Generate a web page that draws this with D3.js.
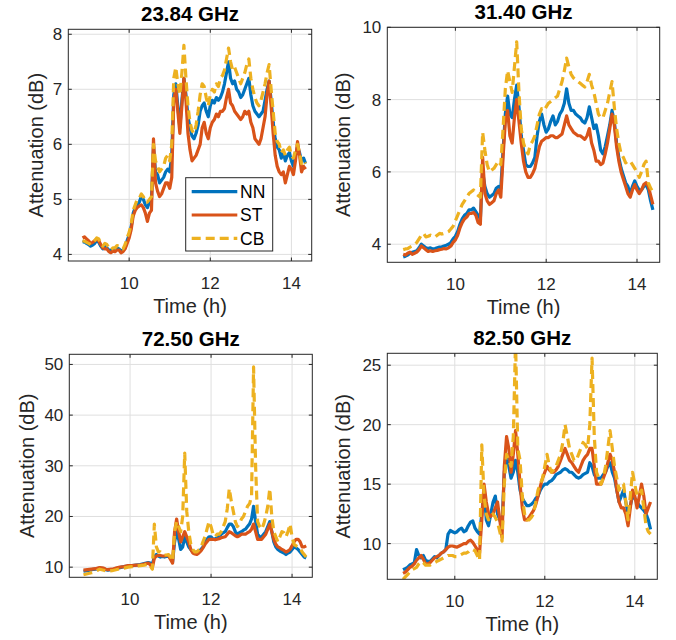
<!DOCTYPE html>
<html>
<head>
<meta charset="utf-8">
<script src="https://cdn.jsdelivr.net/npm/d3@7"></script>
<style>
  body { margin: 0; background: #fff; }
  svg { display: block; font-family: "Liberation Sans", Arial, sans-serif; }
</style>
</head>
<body>
<svg id="svg"></svg>
<script>
// time axis (hours), shared by all four panels
const time = [
  8.85, 8.9, 8.95, 9.0, 9.05, 9.1, 9.15, 9.2, 9.25, 9.3,
  9.35, 9.4, 9.45, 9.5, 9.55, 9.6, 9.65, 9.7, 9.75, 9.8,
  9.85, 9.9, 9.95, 10.0, 10.05, 10.1, 10.15, 10.2, 10.25, 10.3,
  10.35, 10.4, 10.45, 10.5, 10.55, 10.6, 10.65, 10.7, 10.75, 10.8,
  10.85, 10.9, 10.95, 11.0, 11.05, 11.1, 11.15, 11.2, 11.25, 11.3,
  11.35, 11.4, 11.45, 11.5, 11.55, 11.6, 11.65, 11.7, 11.75, 11.8,
  11.85, 11.9, 11.95, 12.0, 12.05, 12.1, 12.15, 12.2, 12.25, 12.3,
  12.35, 12.4, 12.45, 12.5, 12.55, 12.6, 12.65, 12.7, 12.75, 12.8,
  12.85, 12.9, 12.95, 13.0, 13.05, 13.1, 13.15, 13.2, 13.25, 13.3,
  13.35, 13.4, 13.45, 13.5, 13.55, 13.6, 13.65, 13.7, 13.75, 13.8,
  13.85, 13.9, 13.95, 14.0, 14.05, 14.1, 14.15, 14.2, 14.25, 14.3,
  14.35];

const seriesNames = ["NN", "ST", "CB"];
const titles = ["23.84 GHz", "31.40 GHz", "72.50 GHz", "82.50 GHz"];
const xTicks = [10, 12, 14];
const yTicks23 = [4, 5, 6, 7, 8];
const yTicks31 = [4, 6, 8, 10];
const yTicks72 = [10, 20, 30, 40, 50];
const yTicks82 = [10, 15, 20, 25];

// 23.84 GHz
const nn23 = [
  4.22, 4.23, 4.2, 4.18, 4.15, 4.17, 4.2, 4.25, 4.22, 4.15,
  4.1, 4.15, 4.12, 4.08, 4.07, 4.1, 4.08, 4.12, 4.1, 4.06,
  4.08, 4.12, 4.25, 4.35, 4.5, 4.75, 4.85, 4.9, 4.95, 5.05,
  5.0, 4.9, 4.85, 4.95, 5.0, 5.95, 5.5, 5.45, 5.3, 5.35,
  5.4, 5.5, 5.55, 5.5, 5.8, 6.9, 7.1, 6.7, 6.3, 6.8,
  7.2, 6.9, 6.5, 6.3, 6.15, 6.1, 6.2, 6.35, 6.6, 6.7,
  6.75, 6.6, 6.5, 6.7, 6.8, 6.75, 6.85, 6.8, 6.85, 6.95,
  7.1, 7.3, 7.5, 7.2, 7.1, 7.15, 7.0, 6.95, 6.85, 6.9,
  7.0, 7.1, 7.2, 6.9, 6.7, 6.6, 6.55, 6.5, 6.55, 6.6,
  6.8, 7.0, 7.15, 6.8, 6.4, 6.1, 5.95, 5.9, 5.75, 5.85,
  5.7, 5.8, 5.85, 5.7, 5.6, 5.8, 5.95, 5.85, 5.7, 5.75,
  5.65];
const st23 = [
  4.3, 4.32, 4.28, 4.25, 4.2, 4.22, 4.25, 4.28, 4.25, 4.18,
  4.12, 4.1, 4.1, 4.05, 4.03, 4.06, 4.05, 4.08, 4.08, 4.03,
  4.05, 4.1, 4.2, 4.3, 4.45, 4.7, 4.8, 4.85, 4.88, 4.9,
  4.85, 4.75, 4.6, 4.75, 4.8, 6.1, 5.3, 5.15, 5.05, 5.1,
  5.2, 5.3, 5.3, 5.2, 5.4, 6.8, 7.0, 6.6, 6.2, 6.7,
  7.2, 6.8, 6.2, 5.9, 5.7, 5.75, 5.8, 5.9, 6.0, 6.3,
  6.4, 6.2, 6.1, 6.3, 6.4, 6.45, 6.55, 6.5, 6.6, 6.6,
  6.65, 6.85, 7.0, 6.75, 6.7, 6.6, 6.55, 6.5, 6.45, 6.5,
  6.6, 6.55, 6.6, 6.4, 6.3, 6.1, 6.05, 6.0, 6.1, 6.3,
  6.5, 6.9, 7.15, 6.7, 6.2, 5.8, 5.6, 5.5, 5.45, 5.5,
  5.3, 5.45, 5.6, 5.55, 5.45, 5.7, 6.05, 5.8, 5.5, 5.6,
  5.55];
const cb23 = [
  4.25, 4.24, 4.22, 4.2, 4.18, 4.2, 4.25, 4.3, 4.28, 4.2,
  4.15, 4.2, 4.18, 4.12, 4.08, 4.12, 4.12, 4.16, 4.15, 4.1,
  4.1, 4.18, 4.3, 4.4, 4.55, 4.8, 4.9, 5.0, 5.02, 5.1,
  5.05, 4.95, 4.95, 5.0, 5.05, 6.0, 5.7, 5.6, 5.5, 5.55,
  5.6, 5.75, 5.8, 5.7, 6.0, 7.2, 7.4, 7.1, 6.9, 7.3,
  7.8, 7.2, 6.7, 6.4, 6.25, 6.2, 6.35, 6.6, 6.9, 7.1,
  7.05, 6.85, 6.7, 6.9, 7.0, 6.95, 7.1, 7.05, 7.2, 7.25,
  7.35, 7.55, 7.75, 7.5, 7.35, 7.4, 7.3, 7.2, 7.1, 7.2,
  7.3, 7.45, 7.55, 7.2, 7.0, 6.85, 6.75, 6.7, 6.8, 6.95,
  7.1, 7.3, 7.45, 7.0, 6.6, 6.2, 6.05, 6.0, 5.85, 5.9,
  5.8, 5.9, 5.95, 5.8, 5.75, 5.9, 6.0, 5.85, 5.65, 5.7,
  5.65];

// 31.40 GHz
const nn31 = [
  3.65, 3.67, 3.7, 3.75, 3.78, 3.8, 3.82, 3.9, 4.0, 3.95,
  3.9, 3.88, 3.9, 3.87, 3.88, 3.9, 3.92, 3.93, 3.95, 3.97,
  4.0, 4.05, 4.15, 4.22, 4.35, 4.55, 4.7, 4.8, 4.85, 4.95,
  4.95, 5.0, 4.9, 4.8, 4.7, 6.0, 5.6, 5.4, 5.3, 5.35,
  5.4, 5.55, 5.6, 5.55, 6.6, 7.6, 8.1, 7.6, 7.5, 8.0,
  8.4, 7.8, 7.0, 6.6, 6.2, 6.15, 6.15, 6.25, 6.4, 7.0,
  7.4, 7.6, 7.3, 7.1, 7.2, 7.4, 7.55, 7.3, 7.4, 7.6,
  7.7, 7.9, 8.3, 7.9, 7.7, 7.7, 7.6, 7.55, 7.5, 7.4,
  7.35, 7.5, 7.8, 7.5, 7.2, 7.3, 7.0, 6.6, 6.5, 6.7,
  7.0, 7.3, 7.7, 7.4, 6.8, 6.4, 6.1, 5.9, 5.7, 5.6,
  5.4, 5.6, 5.75, 5.6, 5.5, 5.5, 5.6, 5.65, 5.5, 5.2,
  4.95];
const st31 = [
  3.72, 3.7, 3.75, 3.78, 3.72, 3.75, 3.78, 3.85, 3.95, 3.9,
  3.85, 3.8, 3.82, 3.8, 3.82, 3.83, 3.85, 3.86, 3.88, 3.87,
  3.9, 3.95, 4.05, 4.12, 4.25, 4.45, 4.6, 4.7, 4.75, 4.85,
  4.85, 4.88, 4.8, 4.6, 4.55, 6.4, 5.4, 5.2, 5.1, 5.15,
  5.2, 5.4, 5.5, 5.3, 6.4, 7.4, 7.7, 7.0, 6.8, 7.5,
  8.0, 7.4, 6.8, 6.3, 6.0, 5.85, 5.85, 5.95, 6.1, 6.4,
  6.7, 6.85, 6.9, 6.95, 6.95, 7.0, 7.0, 6.95, 6.95, 7.0,
  7.05, 7.3, 7.55, 7.3, 7.2, 7.1, 7.05, 7.0, 7.0, 6.95,
  6.9, 7.0, 7.2, 6.8, 6.6, 6.3, 6.3, 6.2, 6.25, 6.5,
  6.8, 7.2, 7.6, 7.3, 6.7, 6.3, 6.0, 5.8, 5.6, 5.4,
  5.3, 5.5, 5.65, 5.5, 5.4, 5.5, 5.65, 5.7, 5.6, 5.35,
  5.1];
const cb31 = [
  3.85, 3.87, 3.88, 3.92, 3.95, 4.0, 4.05, 4.15, 4.25, 4.3,
  4.2, 4.22, 4.25, 4.22, 4.2, 4.25, 4.3, 4.28, 4.3, 4.32,
  4.35, 4.42, 4.5, 4.65, 4.8, 4.95, 5.1, 5.2, 5.3, 5.4,
  5.45, 5.5, 5.4, 5.35, 5.3, 7.1, 6.6, 6.2, 6.0, 6.05,
  6.1, 6.2, 6.3, 6.2, 7.2, 8.3, 8.8, 8.5, 8.2, 8.9,
  9.6, 8.2, 7.2, 6.8, 6.6, 6.5, 6.75, 6.85, 7.0, 7.3,
  7.6, 7.75, 7.7, 7.8, 7.9, 7.95, 8.0, 8.05, 8.1, 8.3,
  8.5, 8.8, 9.15, 8.9, 8.7, 8.6, 8.55, 8.5, 8.45, 8.4,
  8.35, 8.5, 8.7, 8.4, 8.2, 7.9, 7.6, 7.5, 7.5, 7.7,
  7.9, 8.2, 8.5, 7.8, 7.2, 6.8, 6.5, 6.4, 6.25, 6.3,
  6.3, 6.2, 6.1, 6.0, 5.85, 6.0, 6.2, 6.3, 5.7, 5.55,
  5.45];

// 72.50 GHz
const nn72 = [
  9.2, 9.25, 9.3, 9.4, 9.5, 9.55, 9.6, 9.7, 9.8, 9.75,
  9.7, 9.5, 9.4, 9.45, 9.5, 9.6, 9.7, 9.8, 9.9, 10.0,
  10.1, 10.15, 10.2, 10.2, 10.3, 10.35, 10.4, 10.45, 10.5, 10.6,
  10.7, 10.8, 10.9, 10.8, 10.6, 12.0, 12.5, 12.2, 12.0, 12.1,
  12.0, 12.1, 12.2, 11.8, 11.0, 15.0, 17.0, 15.5, 13.5, 14.0,
  16.0, 15.0, 14.0, 13.5, 13.0, 12.8, 13.0, 13.2, 13.5, 14.0,
  15.0, 15.5, 16.0, 16.0, 15.5, 15.6, 15.8, 16.0, 16.5, 16.8,
  17.0, 17.8, 18.5, 18.5, 18.0, 17.0, 16.5, 16.8, 17.0, 17.3,
  17.5, 18.0, 18.5, 19.5, 22.0, 19.0, 16.5, 16.0, 16.0, 16.5,
  17.0, 18.0, 19.0, 17.0, 15.0, 14.0, 13.5, 13.2, 13.0, 12.8,
  12.5, 12.8, 13.0, 13.5, 14.0, 13.8, 13.5, 13.0, 12.5, 12.0,
  11.8];
const st72 = [
  9.4, 9.45, 9.5, 9.55, 9.6, 9.65, 9.7, 9.8, 9.9, 9.85,
  9.8, 9.6, 9.5, 9.55, 9.6, 9.7, 9.8, 9.9, 10.0, 10.05,
  10.1, 10.2, 10.3, 10.3, 10.3, 10.35, 10.4, 10.4, 10.4, 10.5,
  10.6, 10.7, 10.8, 10.5, 9.8, 11.8, 12.2, 12.3, 12.3, 12.2,
  12.2, 12.3, 12.3, 11.5, 10.8, 17.0, 19.5, 17.0, 15.0, 16.0,
  17.0, 16.0, 15.0, 13.5, 12.8, 12.6, 12.5, 12.8, 13.2, 13.8,
  14.5, 15.0, 15.5, 15.5, 15.5, 15.4, 15.5, 15.6, 15.8, 15.9,
  16.0, 16.5, 17.0, 16.8, 16.5, 16.2, 16.0, 16.2, 16.5, 16.5,
  16.5, 16.8, 17.0, 17.5, 18.5, 17.0, 15.5, 15.5, 15.5, 16.0,
  16.5, 17.5, 18.5, 17.0, 15.5, 14.5, 14.0, 13.8, 13.5, 13.3,
  13.0, 13.2, 13.5, 14.2, 15.0, 15.5, 15.5, 15.0, 14.0, 14.0,
  14.2];
const cb72 = [
  8.5, 8.6, 8.7, 8.8, 8.9, 9.0, 9.2, 9.4, 9.6, 9.5,
  9.4, 9.3, 9.2, 9.25, 9.3, 9.4, 9.5, 9.6, 9.7, 9.75,
  9.8, 9.9, 10.0, 10.05, 10.1, 10.15, 10.2, 10.25, 10.3, 10.35,
  10.4, 10.5, 10.6, 10.2, 9.6, 18.5, 14.0, 13.0, 13.0, 12.6,
  12.4, 12.4, 12.5, 12.0, 11.2, 17.0, 19.0, 18.0, 17.0, 20.0,
  32.5, 21.0, 17.0, 14.5, 13.5, 13.0, 13.0, 13.4, 13.8, 15.0,
  16.0, 17.5, 19.0, 18.0, 16.5, 16.0, 16.5, 16.5, 17.0, 18.0,
  19.0, 21.5, 25.5, 23.0, 21.0, 19.0, 18.0, 18.5, 19.5, 20.0,
  21.0, 22.0, 22.5, 24.0, 49.5, 30.0, 19.0, 18.0, 17.5, 18.5,
  20.0, 22.0, 25.5, 20.0, 17.0, 16.0, 15.0, 16.0, 17.0, 16.8,
  16.0, 17.0, 18.5, 16.0, 14.5, 14.2, 14.0, 13.8, 13.0, 12.5,
  12.0];

// 82.50 GHz
const nn82 = [
  7.8, 7.9, 8.0, 8.2, 8.3, 8.4, 9.5, 9.0, 8.8, 9.0,
  8.6, 8.5, 8.5, 8.7, 8.9, 8.8, 9.0, 9.2, 9.3, 9.5,
  10.8, 11.1, 11.0, 10.9, 11.0, 11.2, 11.3, 11.0, 11.1, 11.5,
  11.8, 11.9, 11.3, 11.0, 10.8, 12.5, 14.5, 12.0, 11.5, 12.5,
  13.5, 14.0, 12.5, 12.0, 11.5, 16.0, 17.5, 16.5, 15.5, 16.0,
  17.0, 16.0, 14.5, 13.8, 13.5, 13.2, 13.2, 13.3, 13.5, 13.8,
  14.0, 14.5, 14.8, 15.0, 15.0, 15.2, 15.3, 15.5, 15.8, 15.9,
  16.0, 16.2, 16.3, 16.2, 16.0, 16.0, 15.8, 15.6, 15.5, 15.6,
  15.8, 15.9, 16.0, 16.8, 16.5, 15.8, 15.5, 15.5, 15.5, 15.8,
  16.0, 16.5, 16.8, 16.0, 15.5, 14.5, 13.5, 14.0, 14.5, 13.5,
  12.5, 13.2, 14.0, 13.8, 13.5, 13.2, 13.0, 12.8, 12.5, 12.0,
  11.2];
const st82 = [
  7.5, 7.6, 7.8, 8.0, 8.1, 8.3, 8.6, 8.8, 9.0, 8.7,
  8.3, 8.3, 8.4, 8.6, 8.8, 8.9, 9.0, 9.2, 9.3, 9.5,
  9.7, 9.8, 9.8, 9.75, 9.7, 9.8, 9.9, 10.0, 10.0, 10.2,
  10.3, 10.1, 9.8, 9.5, 9.2, 12.0, 15.0, 13.5, 12.5, 12.3,
  12.5, 13.0, 13.5, 12.0, 10.5, 16.5, 19.0, 18.0, 16.0, 17.5,
  19.5, 17.5, 15.0, 13.0, 12.0, 12.0, 12.2, 12.5, 12.8, 13.3,
  14.0, 14.8, 15.5, 16.0, 16.5, 16.2, 16.0, 16.0, 16.2, 16.5,
  17.0, 17.5, 18.0, 17.5, 17.0, 16.8, 16.5, 16.2, 16.0, 16.5,
  17.0, 17.3, 17.5, 18.0, 18.0, 16.5, 15.0, 15.0, 15.0, 15.5,
  16.0, 16.8, 17.5, 17.0, 16.0, 14.5, 13.5, 13.0, 13.0, 12.5,
  11.5, 13.0, 14.5, 14.0, 13.0, 14.0, 15.0, 14.0, 12.5, 13.0,
  13.5];
const cb82 = [
  7.0, 7.2, 7.4, 7.6, 7.8, 7.9, 8.0, 8.3, 8.5, 8.4,
  8.2, 8.2, 8.2, 8.3, 8.4, 8.5, 8.6, 8.7, 8.8, 8.9,
  9.0, 9.0, 9.0, 8.9, 8.9, 9.0, 9.1, 9.2, 9.2, 9.3,
  9.5, 9.5, 9.4, 9.0, 8.6, 18.3, 14.0, 12.5, 12.0, 12.3,
  12.5, 12.2, 11.8, 11.0, 10.2, 15.0, 17.5, 17.0, 16.5, 19.0,
  27.0, 18.0, 17.0, 14.0, 12.5, 12.0, 12.0, 12.2, 12.5, 13.5,
  14.5, 15.0, 15.5, 16.5, 17.5, 16.5, 16.0, 16.2, 16.5, 17.0,
  17.5, 18.5, 20.0, 19.0, 18.0, 17.5, 17.0, 17.0, 17.5, 18.0,
  18.5, 18.3, 18.0, 20.0, 25.6, 19.0, 16.0, 15.5, 15.0, 15.5,
  16.5, 18.0, 19.5, 18.0, 16.5, 15.5, 14.5, 15.0, 15.0, 13.5,
  12.0, 14.0, 16.0, 15.0, 14.0, 14.2, 14.5, 13.0, 11.5, 11.0,
  10.8];

const width = 676;
const height = 640;
const colors = ["#0072BD", "#D95319", "#EDB120"];
const textColor = "#262626";

let svg = d3.select("#svg").attr("width", width).attr("height", height);

const panels = [
  { title: titles[0], series: [nn23, st23, cb23], yTicks: yTicks23, ylim: [3.88, 8.09],
    left: 68.3, right: 311.7, top: 29.3, bottom: 261, ylabelX: 42.5, legend: true },
  { title: titles[1], series: [nn31, st31, cb31], yTicks: yTicks31, ylim: [3.5, 10],
    left: 387.3, right: 659.7, top: 27.3, bottom: 262.3, ylabelX: 349.5 },
  { title: titles[2], series: [nn72, st72, cb72], yTicks: yTicks72, ylim: [8, 52],
    left: 69.3, right: 312.3, top: 354.3, bottom: 577.3, ylabelX: 33.5 },
  { title: titles[3], series: [nn82, st82, cb82], yTicks: yTicks82, ylim: [7, 26],
    left: 387.3, right: 657.3, top: 353.3, bottom: 579.3, ylabelX: 349.5 }
];

function drawPanel(p, idx) {
  const x = d3.scaleLinear().domain([8.5, 14.5]).range([p.left, p.right]);
  const y = d3.scaleLinear().domain(p.ylim).range([p.bottom, p.top]);
  const g = svg.append("g");

  g.append("rect")
    .attr("x", p.left).attr("y", p.top)
    .attr("width", p.right - p.left).attr("height", p.bottom - p.top)
    .attr("fill", "#fff");

  // grid
  g.selectAll(".gx").data(xTicks).join("line")
    .attr("x1", d => x(d)).attr("x2", d => x(d))
    .attr("y1", p.top).attr("y2", p.bottom)
    .attr("stroke", "#dfdfdf").attr("stroke-width", 1);
  g.selectAll(".gy").data(p.yTicks).join("line")
    .attr("x1", p.left).attr("x2", p.right)
    .attr("y1", d => y(d)).attr("y2", d => y(d))
    .attr("stroke", "#dfdfdf").attr("stroke-width", 1);

  // lines
  const clipId = "clip" + idx;
  g.append("clipPath").attr("id", clipId).append("rect")
    .attr("x", p.left).attr("y", p.top)
    .attr("width", p.right - p.left).attr("height", p.bottom - p.top);
  const line = d3.line().x((d, i) => x(time[i])).y(d => y(d));
  p.series.forEach((s, k) => {
    g.append("path")
      .datum(s)
      .attr("clip-path", `url(#${clipId})`)
      .attr("d", line)
      .attr("fill", "none")
      .attr("stroke", colors[k])
      .attr("stroke-width", 3.2)
      .attr("stroke-linejoin", "round")
      .attr("stroke-dasharray", k === 2 ? "9,5" : null);
  });

  // box + ticks (inward, all four sides)
  g.append("rect")
    .attr("x", p.left).attr("y", p.top)
    .attr("width", p.right - p.left).attr("height", p.bottom - p.top)
    .attr("fill", "none").attr("stroke", textColor).attr("stroke-width", 1);
  const tl = 3.5;
  xTicks.forEach(t => {
    g.append("line").attr("x1", x(t)).attr("x2", x(t)).attr("y1", p.bottom).attr("y2", p.bottom - tl).attr("stroke", textColor);
    g.append("line").attr("x1", x(t)).attr("x2", x(t)).attr("y1", p.top).attr("y2", p.top + tl).attr("stroke", textColor);
  });
  p.yTicks.forEach(t => {
    g.append("line").attr("x1", p.left).attr("x2", p.left + tl).attr("y1", y(t)).attr("y2", y(t)).attr("stroke", textColor);
    g.append("line").attr("x1", p.right).attr("x2", p.right - tl).attr("y1", y(t)).attr("y2", y(t)).attr("stroke", textColor);
  });

  // tick labels
  g.selectAll(".xl").data(xTicks).join("text")
    .attr("x", d => x(d)).attr("y", p.bottom + 27.5)
    .attr("text-anchor", "middle").attr("font-size", "17px").attr("fill", textColor)
    .text(d => d);
  g.selectAll(".yl").data(p.yTicks).join("text")
    .attr("x", p.left - 6).attr("y", d => y(d)).attr("dy", "0.35em")
    .attr("text-anchor", "end").attr("font-size", "17px").attr("fill", textColor)
    .text(d => d);

  // axis labels and title
  g.append("text")
    .attr("x", (p.left + p.right) / 2).attr("y", p.bottom + 52)
    .attr("text-anchor", "middle").attr("font-size", "20px").attr("fill", textColor)
    .text("Time (h)");
  g.append("text")
    .attr("transform", `translate(${p.ylabelX},${(p.top + p.bottom) / 2}) rotate(-90)`)
    .attr("text-anchor", "middle").attr("font-size", "20px").attr("fill", textColor)
    .text("Attenuation (dB)");
  g.append("text")
    .attr("x", (p.left + p.right) / 2).attr("y", p.top - 8.8)
    .attr("text-anchor", "middle").attr("font-size", "20.5px").attr("font-weight", "bold")
    .attr("fill", "#000")
    .text(p.title);

  if (p.legend) {
    const lg = g.append("g");
    lg.append("rect")
      .attr("x", 185.7).attr("y", 177.7).attr("width", 87).attr("height", 73.3)
      .attr("fill", "#fff").attr("stroke", textColor).attr("stroke-width", 1);
    seriesNames.forEach((name, k) => {
      const yy = 191.7 + k * 23.3;
      lg.append("line")
        .attr("x1", 191.7).attr("x2", 237.3).attr("y1", yy).attr("y2", yy)
        .attr("stroke", colors[k]).attr("stroke-width", 3.2)
        .attr("stroke-dasharray", k === 2 ? "9,5" : null);
      lg.append("text")
        .attr("x", 240).attr("y", yy).attr("dy", "0.36em")
        .attr("font-size", "17.5px").attr("fill", "#000")
        .text(name);
    });
  }
}

panels.forEach((p, i) => drawPanel(p, i));
</script>
</body>
</html>
